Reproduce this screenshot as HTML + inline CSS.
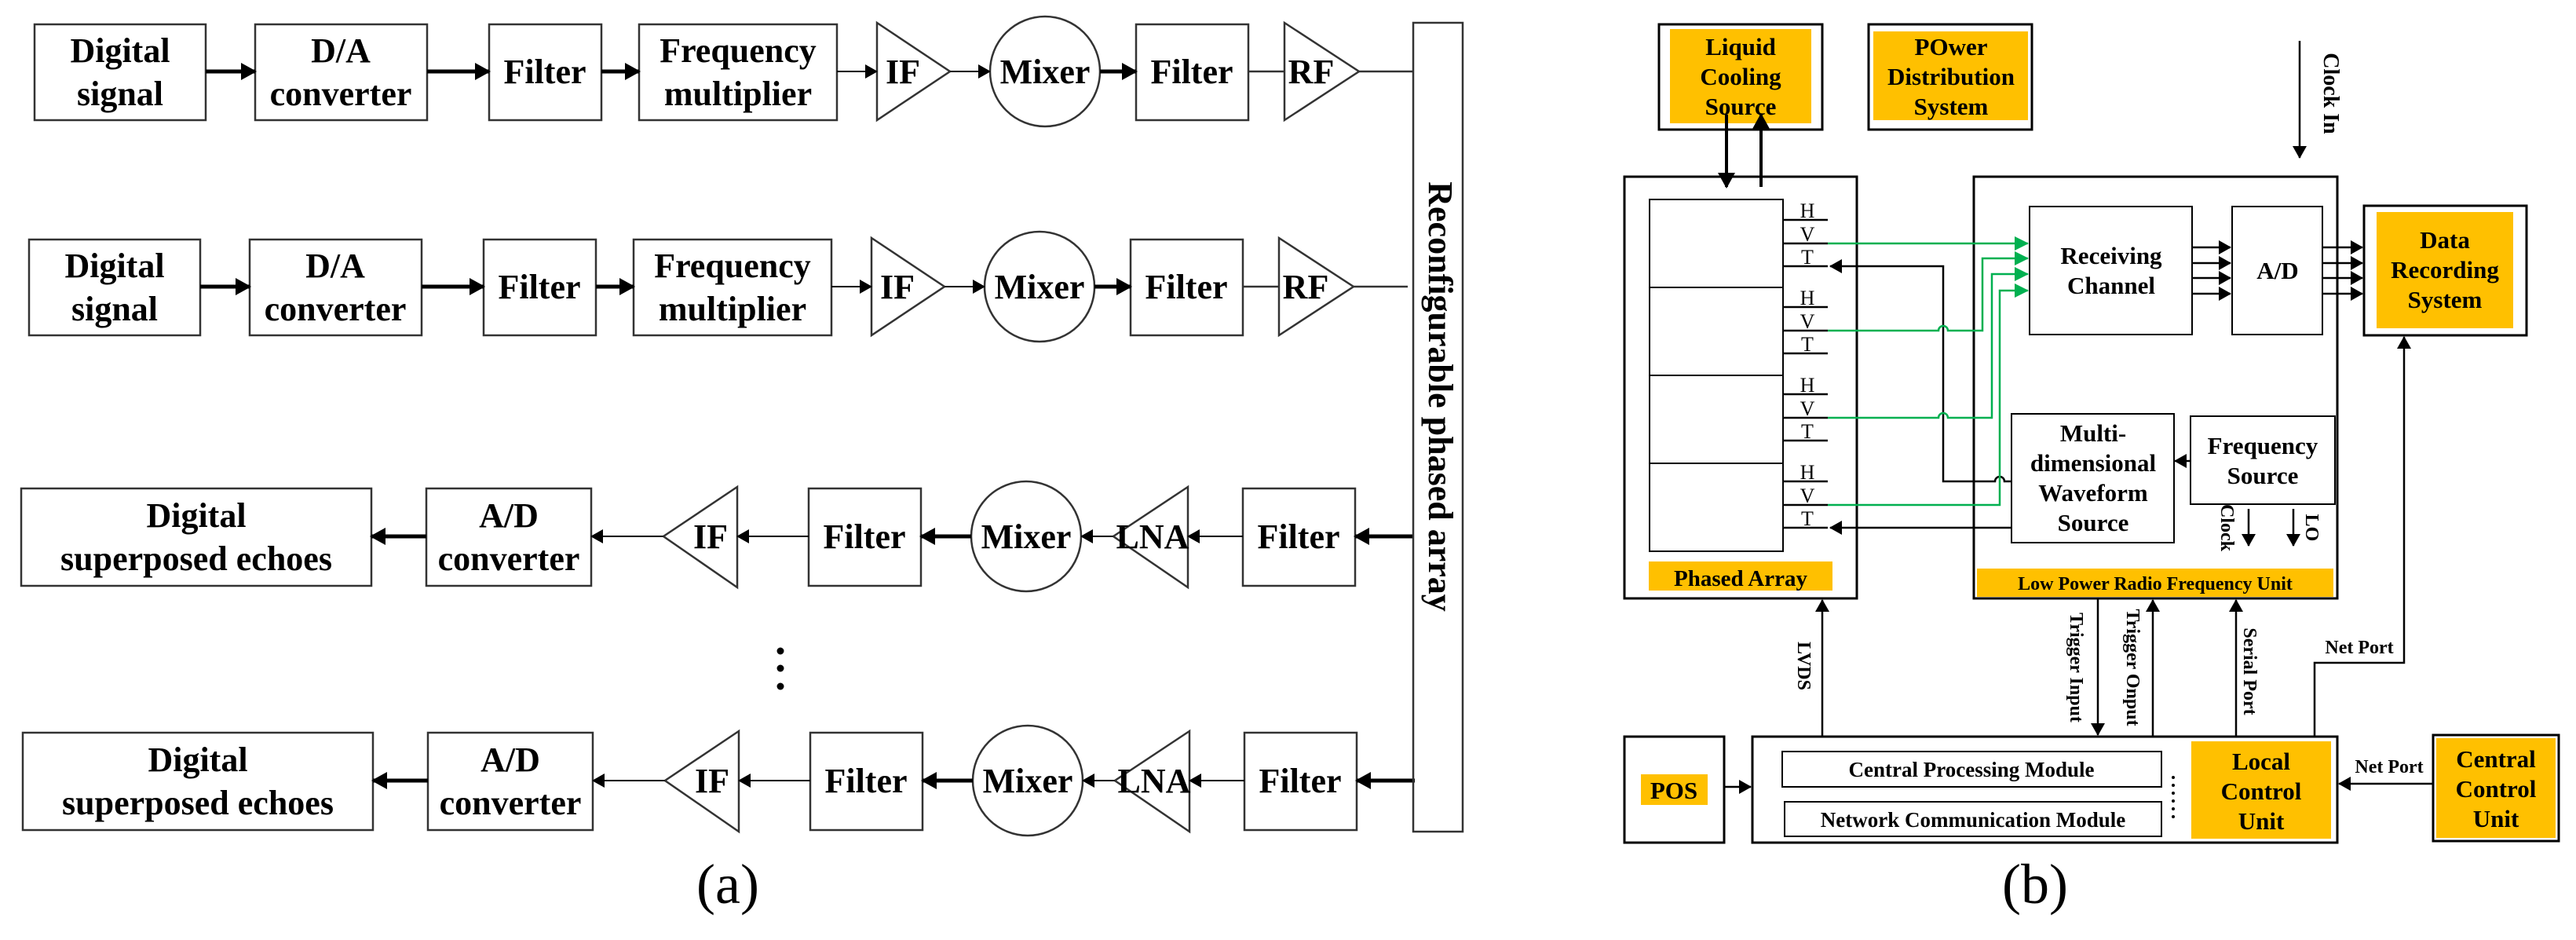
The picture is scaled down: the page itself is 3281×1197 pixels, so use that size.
<!DOCTYPE html>
<html><head><meta charset="utf-8"><style>
html,body{margin:0;padding:0;background:#fff;}
svg{display:block;font-family:"Liberation Serif",serif;}
text{font-family:"Liberation Serif",serif;}
.b{font-weight:bold;}
</style></head><body>
<svg width="3281" height="1197" viewBox="0 0 3281 1197" xmlns="http://www.w3.org/2000/svg" font-family="Liberation Serif, serif">
<defs>
<marker id="ah" markerUnits="userSpaceOnUse" markerWidth="20" markerHeight="22" refX="18" refY="11" orient="auto"><path d="M0,0 L20,11 L0,22 Z" fill="#000"/></marker>
<marker id="as" markerUnits="userSpaceOnUse" markerWidth="16" markerHeight="18" refX="15" refY="9" orient="auto"><path d="M0,0 L16,9 L0,18 Z" fill="#000"/></marker>
<marker id="ag" markerUnits="userSpaceOnUse" markerWidth="18" markerHeight="18" refX="17" refY="9" orient="auto"><path d="M0,0 L18,9 L0,18 Z" fill="#00B050"/></marker>
</defs>

<!-- ===== Panel (a) ===== -->
<g fill="none" stroke="#333" stroke-width="2.5">
<g id="tx">
 <rect x="44" y="31" width="218" height="122"/>
 <rect x="325" y="31" width="219" height="122"/>
 <rect x="623" y="31" width="143" height="122"/>
 <rect x="814" y="31" width="252" height="122"/>
 <polygon points="1117,29 1210,91 1117,153"/>
 <circle cx="1331" cy="91" r="70"/>
 <rect x="1447" y="31" width="143" height="122"/>
 <polygon points="1636,29 1731,91 1636,153"/>
 <line x1="1731" y1="91" x2="1800" y2="91"/>
 <line x1="1590" y1="91" x2="1636" y2="91"/>
 <g stroke="#000">
 <line x1="262" y1="91" x2="325" y2="91" stroke-width="5" marker-end="url(#ah)"/>
 <line x1="544" y1="91" x2="623" y2="91" stroke-width="5" marker-end="url(#ah)"/>
 <line x1="766" y1="91" x2="814" y2="91" stroke-width="5" marker-end="url(#ah)"/>
 <line x1="1066" y1="91" x2="1117" y2="91" stroke-width="2" marker-end="url(#as)"/>
 <line x1="1210" y1="91" x2="1261" y2="91" stroke-width="2" marker-end="url(#as)"/>
 <line x1="1401" y1="91" x2="1447" y2="91" stroke-width="5" marker-end="url(#ah)"/>
 </g>
 <g fill="#000" stroke="none" class="b" font-size="44" text-anchor="middle">
  <text x="153" y="79" class="b">Digital</text><text x="153" y="134" class="b">signal</text>
  <text x="434" y="79" class="b">D/A</text><text x="434" y="134" class="b">converter</text>
  <text x="694" y="106" class="b">Filter</text>
  <text x="940" y="79" class="b">Frequency</text><text x="940" y="134" class="b">multiplier</text>
  <text x="1150" y="106" class="b">IF</text>
  <text x="1331" y="106" class="b">Mixer</text>
  <text x="1518" y="106" class="b">Filter</text>
  <text x="1670" y="106" class="b">RF</text>
 </g>
</g>
<use href="#tx" transform="translate(-7,274)"/>

<g id="rx">
 <rect x="27" y="622" width="446" height="124"/>
 <rect x="543" y="622" width="210" height="124"/>
 <polygon points="939,620 845,683 939,748"/>
 <rect x="1030" y="622" width="143" height="124"/>
 <circle cx="1307" cy="683" r="70"/>
 <polygon points="1513,620 1418,683 1513,748"/>
 <rect x="1583" y="622" width="143" height="124"/>
 <g stroke="#000">
 <line x1="1800" y1="683" x2="1726" y2="683" stroke-width="5" marker-end="url(#ah)"/>
 <line x1="1583" y1="683" x2="1513" y2="683" stroke-width="2" marker-end="url(#as)"/>
 <line x1="1418" y1="683" x2="1377" y2="683" stroke-width="2" marker-end="url(#as)"/>
 <line x1="1237" y1="683" x2="1173" y2="683" stroke-width="5" marker-end="url(#ah)"/>
 <line x1="1030" y1="683" x2="939" y2="683" stroke-width="2" marker-end="url(#as)"/>
 <line x1="845" y1="683" x2="753" y2="683" stroke-width="2" marker-end="url(#as)"/>
 <line x1="543" y1="683" x2="473" y2="683" stroke-width="5" marker-end="url(#ah)"/>
 </g>
 <g fill="#000" stroke="none" font-size="44" text-anchor="middle">
  <text x="250" y="671" class="b">Digital</text><text x="250" y="726" class="b">superposed echoes</text>
  <text x="648" y="671" class="b">A/D</text><text x="648" y="726" class="b">converter</text>
  <text x="905" y="698" class="b">IF</text>
  <text x="1101" y="698" class="b">Filter</text>
  <text x="1307" y="698" class="b">Mixer</text>
  <text x="1468" y="698" class="b">LNA</text>
  <text x="1654" y="698" class="b">Filter</text>
 </g>
</g>
<use href="#rx" transform="translate(2,311)"/>
<rect x="1800" y="29" width="63" height="1030"/>
</g>
<text transform="translate(1820,505) rotate(90)" text-anchor="middle" font-size="44" class="b">Reconfigurable phased array</text>
<circle cx="994" cy="829" r="4.5"/><circle cx="994" cy="851" r="4.5"/><circle cx="994" cy="874" r="4.5"/>
<text x="927" y="1150" text-anchor="middle" font-size="72">(a)</text>

<!-- ===== Panel (b) ===== -->
<g fill="none" stroke="#000" stroke-width="3">
 <rect x="2113" y="31" width="208" height="134"/>
 <rect x="2127" y="37" width="180" height="120" fill="#FFC000" stroke="none"/>
 <rect x="2380" y="31" width="208" height="134"/>
 <rect x="2386" y="40" width="197" height="113" fill="#FFC000" stroke="none"/>
 <rect x="3011" y="262" width="207" height="165"/>
 <rect x="3027" y="270" width="174" height="148" fill="#FFC000" stroke="none"/>
 <rect x="3099" y="936" width="160" height="135"/>
 <rect x="3103" y="940" width="152" height="127" fill="#FFC000" stroke="none"/>
 <rect x="2069" y="938" width="127" height="135"/>
 <rect x="2090" y="986" width="85" height="39" fill="#FFC000" stroke="none"/>
 <rect x="2232" y="938" width="745" height="135"/>
 <rect x="2791" y="944" width="178" height="124" fill="#FFC000" stroke="none"/>
 <rect x="2270" y="957" width="483" height="45" stroke-width="2"/>
 <rect x="2273" y="1021" width="480" height="44" stroke-width="2"/>
 <rect x="2069" y="225" width="296" height="537"/>
 <rect x="2101" y="254" width="170" height="448" stroke-width="2"/>
 <line x1="2101" y1="366" x2="2271" y2="366" stroke-width="2"/>
 <line x1="2101" y1="478" x2="2271" y2="478" stroke-width="2"/>
 <line x1="2101" y1="590" x2="2271" y2="590" stroke-width="2"/>
 <rect x="2100" y="715" width="234" height="37" fill="#FFC000" stroke="none"/>
 <rect x="2514" y="225" width="463" height="537"/>
 <rect x="2518" y="724" width="454" height="36" fill="#FFC000" stroke="none"/>
 <rect x="2585" y="263" width="207" height="163" stroke-width="2"/>
 <rect x="2843" y="263" width="115" height="163" stroke-width="2"/>
 <rect x="2562" y="527" width="207" height="164" stroke-width="2"/>
 <rect x="2790" y="530" width="184" height="112" stroke-width="2"/>
</g>
<g stroke="#000" stroke-width="2.5">
 <line x1="2271" y1="280" x2="2328" y2="280"/><line x1="2271" y1="310" x2="2328" y2="310"/><line x1="2271" y1="339" x2="2328" y2="339"/>
 <line x1="2271" y1="391" x2="2328" y2="391"/><line x1="2271" y1="421" x2="2328" y2="421"/><line x1="2271" y1="450" x2="2328" y2="450"/>
 <line x1="2271" y1="502" x2="2328" y2="502"/><line x1="2271" y1="532" x2="2328" y2="532"/><line x1="2271" y1="561" x2="2328" y2="561"/>
 <line x1="2271" y1="613" x2="2328" y2="613"/><line x1="2271" y1="643" x2="2328" y2="643"/><line x1="2271" y1="672" x2="2328" y2="672"/>
</g>
<g font-size="26" text-anchor="middle">
 <text x="2302" y="277">H</text><text x="2302" y="307">V</text><text x="2302" y="336">T</text>
 <text x="2302" y="388">H</text><text x="2302" y="418">V</text><text x="2302" y="447">T</text>
 <text x="2302" y="499">H</text><text x="2302" y="529">V</text><text x="2302" y="558">T</text>
 <text x="2302" y="610">H</text><text x="2302" y="640">V</text><text x="2302" y="669">T</text>
</g>
<g fill="none" stroke="#000" stroke-width="2.5">
 <path d="M2562,613 L2553,613 a6,6 0 0 0 -12,0 L2475,613 L2475,339 L2331,339" marker-end="url(#as)"/>
 <path d="M2562,672 L2331,672" marker-end="url(#as)"/>
</g>
<g fill="none" stroke="#00B050" stroke-width="2.5">
 <path d="M2328,310 L2583,310" marker-end="url(#ag)"/>
 <path d="M2328,421 L2469,421 a6,6 0 0 1 12,0 L2525,421 L2525,329 L2583,329" marker-end="url(#ag)"/>
 <path d="M2328,532 L2469,532 a6,6 0 0 1 12,0 L2537,532 L2537,349 L2583,349" marker-end="url(#ag)"/>
 <path d="M2328,643 L2547,643 L2547,370 L2583,370" marker-end="url(#ag)"/>
</g>
<g fill="none" stroke="#000" stroke-width="2.5">
 <line x1="2792" y1="315" x2="2841" y2="315" marker-end="url(#as)"/>
 <line x1="2792" y1="335" x2="2841" y2="335" marker-end="url(#as)"/>
 <line x1="2792" y1="354" x2="2841" y2="354" marker-end="url(#as)"/>
 <line x1="2792" y1="374" x2="2841" y2="374" marker-end="url(#as)"/>
 <line x1="2958" y1="315" x2="3009" y2="315" marker-end="url(#as)"/>
 <line x1="2958" y1="335" x2="3009" y2="335" marker-end="url(#as)"/>
 <line x1="2958" y1="354" x2="3009" y2="354" marker-end="url(#as)"/>
 <line x1="2958" y1="374" x2="3009" y2="374" marker-end="url(#as)"/>
 <line x1="2790" y1="587" x2="2770" y2="587" marker-end="url(#as)"/>
 <line x1="2864" y1="648" x2="2864" y2="695" marker-end="url(#as)"/>
 <line x1="2921" y1="648" x2="2921" y2="695" marker-end="url(#as)"/>
 <line x1="2929" y1="52" x2="2929" y2="201" marker-end="url(#as)"/>
 <line x1="2199" y1="146" x2="2199" y2="238" stroke-width="4" marker-end="url(#ah)"/>
 <line x1="2243" y1="238" x2="2243" y2="146" stroke-width="4" marker-end="url(#ah)"/>
 <line x1="2321" y1="938" x2="2321" y2="764" marker-end="url(#as)"/>
 <line x1="2672" y1="762" x2="2672" y2="936" marker-end="url(#as)"/>
 <line x1="2742" y1="938" x2="2742" y2="764" marker-end="url(#as)"/>
 <line x1="2848" y1="938" x2="2848" y2="764" marker-end="url(#as)"/>
 <path d="M2948,938 L2948,844 L3062,844 L3062,429" marker-end="url(#as)"/>
 <line x1="3099" y1="998" x2="2979" y2="998" marker-end="url(#as)"/>
 <line x1="2196" y1="1002" x2="2230" y2="1002" marker-end="url(#as)"/>
</g>
<g font-size="31" text-anchor="middle" class="b">
 <text x="2217" y="70" class="b">Liquid</text><text x="2217" y="108" class="b">Cooling</text><text x="2217" y="146" class="b">Source</text>
 <text x="2485" y="70" class="b">POwer</text><text x="2485" y="108" class="b">Distribution</text><text x="2485" y="146" class="b">System</text>
 <text x="2689" y="336" class="b">Receiving</text><text x="2689" y="374" class="b">Channel</text>
 <text x="2901" y="355" class="b">A/D</text>
 <text x="3114" y="316" class="b">Data</text><text x="3114" y="354" class="b">Recording</text><text x="3114" y="392" class="b">System</text>
 <text x="2666" y="562" class="b">Multi-</text><text x="2666" y="600" class="b">dimensional</text><text x="2666" y="638" class="b">Waveform</text><text x="2666" y="676" class="b">Source</text>
 <text x="2882" y="578" class="b">Frequency</text><text x="2882" y="616" class="b">Source</text>
 <text x="2880" y="980" class="b">Local</text><text x="2880" y="1018" class="b">Control</text><text x="2880" y="1056" class="b">Unit</text>
 <text x="3179" y="977" class="b">Central</text><text x="3179" y="1015" class="b">Control</text><text x="3179" y="1053" class="b">Unit</text>
 <text x="2132" y="1017" class="b">POS</text>
 <text x="2217" y="746" class="b" font-size="29">Phased Array</text>
</g>
<g font-size="27" text-anchor="middle" class="b">
 <text x="2511" y="989" class="b">Central Processing Module</text>
 <text x="2513" y="1053" class="b">Network Communication Module</text>
 <text x="2745" y="751" class="b" font-size="24">Low Power Radio Frequency Unit</text>
</g>
<g font-size="24" class="b">
 <text x="3005" y="832" text-anchor="middle" class="b">Net Port</text>
 <text x="3043" y="984" text-anchor="middle" class="b">Net Port</text>
 <text transform="translate(2960,119) rotate(90)" text-anchor="middle" font-size="28" class="b">Clock In</text>
 <text transform="translate(2829,672) rotate(90)" text-anchor="middle" class="b">Clock</text>
 <text transform="translate(2937,672) rotate(90)" text-anchor="middle" class="b">LO</text>
 <text transform="translate(2290,848) rotate(90)" text-anchor="middle" class="b">LVDS</text>
 <text transform="translate(2637,850) rotate(90)" text-anchor="middle" class="b">Trigger Input</text>
 <text transform="translate(2709,850) rotate(90)" text-anchor="middle" class="b">Trigger Onput</text>
 <text transform="translate(2858,855) rotate(90)" text-anchor="middle" class="b">Serial Port</text>
</g>
<g fill="#000"><circle cx="2768" cy="990" r="2"/><circle cx="2768" cy="1000" r="2"/><circle cx="2768" cy="1010" r="2"/><circle cx="2768" cy="1020" r="2"/><circle cx="2768" cy="1030" r="2"/><circle cx="2768" cy="1040" r="2"/></g>
<text x="2592" y="1150" text-anchor="middle" font-size="72">(b)</text>
</svg>
</body></html>
